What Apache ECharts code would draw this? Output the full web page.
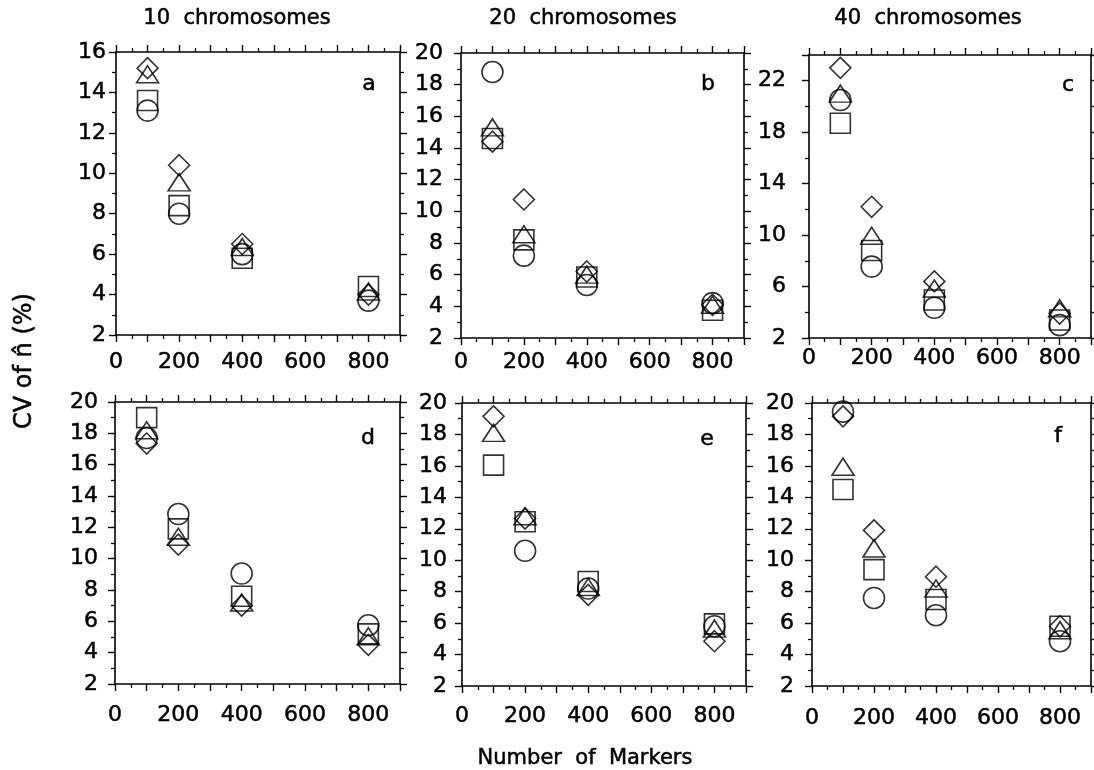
<!DOCTYPE html>
<html><head><meta charset="utf-8">
<script src="https://cdn.jsdelivr.net/npm/echarts@6/dist/echarts.min.js"></script>
<style>html,body{margin:0;padding:0;background:#fff}#c{width:1094px;height:770px}</style>
</head><body><div id="c"></div>
<script>
// ---- data ----
const markers = [100, 200, 400, 800];
const xLabelTicks = [0, 200, 400, 600, 800];
const columnTitles = ['10  chromosomes', '20  chromosomes', '40  chromosomes'];
const panelLetters = ['a', 'b', 'c', 'd', 'e', 'f'];
const yMins = [2, 2, 2, 2, 2, 2];
const yMaxs = [16, 20, 24, 20, 20, 20];
const ySteps = [2, 2, 4, 2, 2, 2];
const xAxisTitle = 'Number  of  Markers';
const yAxisTitle = 'CV of n\u0302 (%)';

// panel a
const a_diamond  = [15.2, 10.4, 6.5, 4.0];
const a_triangle = [14.9, 9.55, 6.35, 4.15];
const a_square   = [13.6, 8.4, 5.8, 4.4];
const a_circle   = [13.1, 8.0, 6.0, 3.7];
// panel b
const b_diamond  = [14.4, 10.75, 6.2, 4.1];
const b_triangle = [15.3, 8.55, 6.0, 4.1];
const b_square   = [14.6, 8.2, 5.85, 3.75];
const b_circle   = [18.8, 7.2, 5.35, 4.2];
// panel c
const c_diamond  = [23.0, 12.2, 6.4, 3.9];
const c_triangle = [21.0, 9.95, 5.85, 4.3];
const c_square   = [18.7, 8.8, 4.95, 3.4];
const c_circle   = [20.5, 7.55, 4.35, 3.0];
// panel d
const d_diamond  = [17.35, 10.9, 7.0, 4.5];
const d_triangle = [18.2, 11.4, 7.2, 5.05];
const d_square   = [19.0, 11.9, 7.6, 5.2];
const d_circle   = [17.7, 12.85, 9.05, 5.75];
// panel e
const e_diamond  = [19.15, 12.65, 7.8, 4.85];
const e_triangle = [18.1, 12.8, 8.3, 5.65];
const e_square   = [16.05, 12.45, 8.65, 5.95];
const e_circle   = [null, 10.6, 8.2, 5.8];
// panel f
const f_diamond  = [19.15, 11.9, 8.95, 5.8];
const f_triangle = [15.95, 10.75, 8.2, 5.55];
const f_square   = [14.5, 9.4, 7.5, 5.8];
const f_circle   = [19.45, 7.6, 6.5, 4.85];

const panelData = [
  [a_diamond, a_triangle, a_square, a_circle],
  [b_diamond, b_triangle, b_square, b_circle],
  [c_diamond, c_triangle, c_square, c_circle],
  [d_diamond, d_triangle, d_square, d_circle],
  [e_diamond, e_triangle, e_square, e_circle],
  [f_diamond, f_triangle, f_square, f_circle]
];

// ---- layout / style ----
const FONT = 'DejaVu Sans';
const TB = {textBorderColor: '#000', textBorderWidth: 0.5};
const grids = [
  {left: 116, top: 52, width: 284, height: 283},
  {left: 461, top: 53, width: 283, height: 285},
  {left: 809, top: 55, width: 283, height: 283},
  {left: 115, top: 402, width: 285, height: 282},
  {left: 462, top: 403, width: 284, height: 283},
  {left: 812, top: 403, width: 285, height: 283}
];
const yLabelMargin = [10, 18, 23, 17, 15, 18];
const xLabelMargin = [16, 13, 9, 20, 19, 21];
const shapes = [
  {symbol: 'diamond', size: [21, 21]},
  {symbol: 'triangle', size: [22, 17]},
  {symbol: 'rect', size: [20, 20]},
  {symbol: 'circle', size: [21, 21]}
];

const lineStyle = {color: '#000', width: 1.6};
const xAxes = [], yAxes = [], series = [];
grids.forEach((g, i) => {
  const xBase = {
    gridIndex: i, type: 'value', min: 0, max: 900, interval: 100,
    axisLine: {show: true, onZero: false, lineStyle},
    axisTick: {show: true, length: 7, inside: false, lineStyle: {color: '#000', width: 1.4}},
    minorTick: {show: true, splitNumber: 2, length: 4, lineStyle: {color: '#000', width: 1.3}},
    splitLine: {show: false}, minorSplitLine: {show: false}
  };
  xAxes.push(Object.assign({}, xBase, {
    position: 'bottom',
    axisLabel: Object.assign({show: true, margin: xLabelMargin[i], color: '#000', fontFamily: FONT, fontSize: 22,
      formatter: v => xLabelTicks.indexOf(v) >= 0 ? String(v) : ''}, TB)
  }));
  xAxes.push(Object.assign({}, xBase, {position: 'top', axisLabel: {show: false}}));
  const yBase = {
    gridIndex: i, type: 'value', min: yMins[i], max: yMaxs[i], interval: ySteps[i],
    axisLine: {show: true, onZero: false, lineStyle},
    axisTick: {show: true, length: 7, inside: false, lineStyle: {color: '#000', width: 1.4}},
    minorTick: {show: true, splitNumber: 2, length: 4, lineStyle: {color: '#000', width: 1.3}},
    splitLine: {show: false}, minorSplitLine: {show: false}
  };
  yAxes.push(Object.assign({}, yBase, {
    position: 'left',
    axisLabel: Object.assign({show: true, margin: yLabelMargin[i], color: '#000', fontFamily: FONT, fontSize: 22,
      showMaxLabel: yMaxs[i] % ySteps[i] === yMins[i] % ySteps[i], showMinLabel: true}, TB)
  }));
  yAxes.push(Object.assign({}, yBase, {position: 'right', axisLabel: {show: false}}));
  panelData[i].forEach((vals, k) => {
    series.push({
      type: 'scatter', xAxisIndex: 2 * i, yAxisIndex: 2 * i,
      symbol: shapes[k].symbol, symbolSize: shapes[k].size,
      itemStyle: {color: 'rgba(255,255,255,0)', borderColor: '#000', borderWidth: 1.6},
      emphasis: {disabled: true},
      data: markers.map((m, j) => vals[j] == null ? null : [m, vals[j]])
    });
  });
});

const graphics = [];
const titleX = [237, 583, 928];
const txt = (t, size) => Object.assign({text: t, fontFamily: FONT, fontSize: size, fill: '#000',
  align: 'center', verticalAlign: 'middle', stroke: '#000', lineWidth: 0.5});
columnTitles.forEach((t, i) => graphics.push({type: 'text', x: titleX[i], y: 19, style: txt(t, 21)}));
const letterPos = [[369, 84], [708, 84], [1068, 85], [368, 438], [707, 439], [1058, 436]];
panelLetters.forEach((l, i) => graphics.push({type: 'text', x: letterPos[i][0], y: letterPos[i][1], style: txt(l, 22)}));
graphics.push({type: 'text', x: 585, y: 759, style: txt(xAxisTitle, 21)});
graphics.push({type: 'text', x: 25, y: 361, rotation: Math.PI / 2, style: txt(yAxisTitle, 24)});

const chart = echarts.init(document.getElementById('c'), null, {renderer: 'canvas'});
chart.setOption({
  animation: false,
  backgroundColor: '#fff',
  grid: grids.map(g => Object.assign({containLabel: false}, g)),
  xAxis: xAxes,
  yAxis: yAxes,
  series: series,
  graphic: graphics
});
</script></body></html>
